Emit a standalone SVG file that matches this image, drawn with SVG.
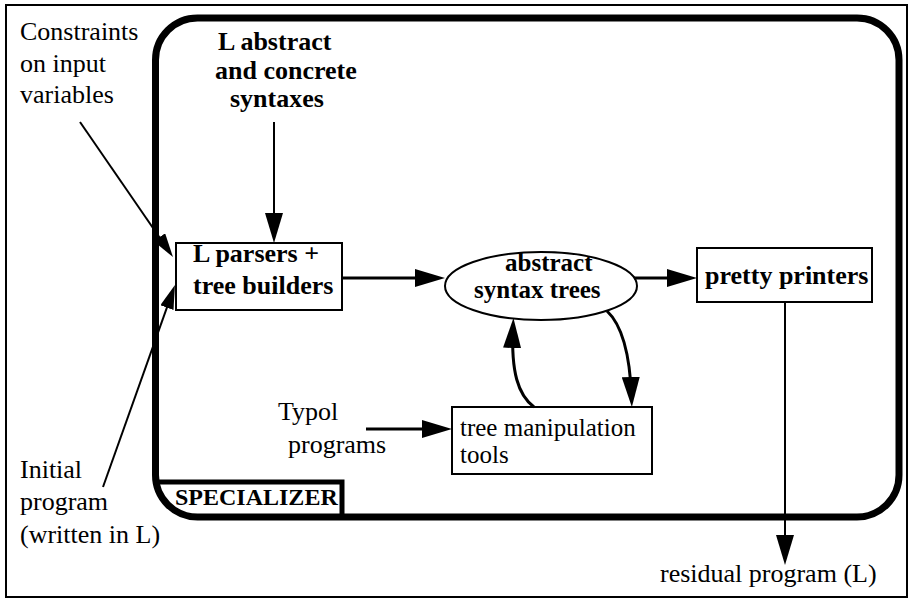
<svg xmlns="http://www.w3.org/2000/svg" width="913" height="599" viewBox="0 0 913 599">
<style>
text{font-family:'Liberation Serif','DejaVu Serif',serif;font-size:26px;fill:#000}
.b{font-weight:bold}
.box{fill:#fff;stroke:#000;stroke-width:2}
.ln{fill:none;stroke:#000;stroke-width:2}
.lw{fill:none;stroke:#000;stroke-width:3}
</style>
<defs>
<marker id="ah" viewBox="0 0 30 18" markerWidth="30" markerHeight="18" refX="20" refY="9" orient="auto" markerUnits="userSpaceOnUse"><path d="M0,0 L30,9 L0,18 z" fill="#000"/></marker>
<marker id="ahs" viewBox="0 0 24 14" markerWidth="24" markerHeight="14" refX="14" refY="7" orient="auto" markerUnits="userSpaceOnUse"><path d="M0,0 L24,7 L0,14 z" fill="#000"/></marker>
</defs>
<rect x="6" y="5" width="901" height="592" fill="#fff" stroke="#000" stroke-width="2"/>
<g id="specializer">
<rect x="155.5" y="18" width="743.5" height="499" rx="42" ry="42" fill="none" stroke="#000" stroke-width="7"/>
<path d="M157 482 H342 V517" fill="none" stroke="#000" stroke-width="5"/>
<text class="b" x="175" y="505" font-family="Liberation Serif, serif" style="font-size:24px">SPECIALIZER</text>
</g>
<g id="constraints" font-family="Liberation Serif, serif">
<text x="20" y="40">Constraints</text>
<text x="20" y="72">on input</text>
<text x="20" y="103">variables</text>
</g>
<g id="syntaxes">
<text class="b" x="218" y="50">L abstract</text>
<text class="b" x="215" y="79">and concrete</text>
<text class="b" x="230" y="107">syntaxes</text>
</g>
<g id="parsers">
<rect class="box" x="176" y="243" width="166" height="67"/>
<text class="b" x="193" y="262">L parsers +</text>
<text class="b" x="193" y="294">tree builders</text>
</g>
<g id="ast">
<ellipse cx="541" cy="286" rx="96" ry="34" class="box"/>
<text class="b" x="505" y="271" style="font-size:25px">abstract</text>
<text class="b" x="474" y="298" style="font-size:25px">syntax trees</text>
</g>
<g id="pretty">
<rect class="box" x="697" y="248" width="175" height="54"/>
<text class="b" x="705" y="284">pretty printers</text>
</g>
<g id="tools">
<rect class="box" x="452" y="407" width="200" height="67"/>
<text x="460" y="436" style="font-size:25px">tree manipulation</text>
<text x="460" y="463" style="font-size:25px">tools</text>
</g>
<g id="typol">
<text x="278" y="420">Typol</text>
<text x="288" y="453">programs</text>
</g>
<g id="initial">
<text x="20" y="478">Initial</text>
<text x="20" y="510">program</text>
<text x="20" y="543">(written in L)</text>
</g>
<g id="residual">
<text x="660" y="582">residual program (L)</text>
</g>
<g id="connectors">
<line class="ln" x1="274" y1="122" x2="274" y2="233" marker-end="url(#ah)"/>
<line class="ln" x1="80" y1="122" x2="167.3" y2="248.8" marker-end="url(#ahs)"/>
<line class="ln" x1="103" y1="487" x2="171.6" y2="294.4" marker-end="url(#ahs)"/>
<line class="lw" x1="342" y1="278" x2="435" y2="278" marker-end="url(#ah)"/>
<line class="lw" x1="634" y1="278" x2="687" y2="278" marker-end="url(#ah)"/>
<line class="ln" x1="785" y1="302" x2="785" y2="555" marker-end="url(#ah)"/>
<line class="lw" x1="366" y1="429" x2="442" y2="429" marker-end="url(#ah)"/>
<path class="lw" d="M534 407 C518 395 511 372 513 328" marker-end="url(#ah)"/>
<path class="lw" d="M607 311 C622 325 630 355 631.5 397" marker-end="url(#ah)"/>
</g>
</svg>
